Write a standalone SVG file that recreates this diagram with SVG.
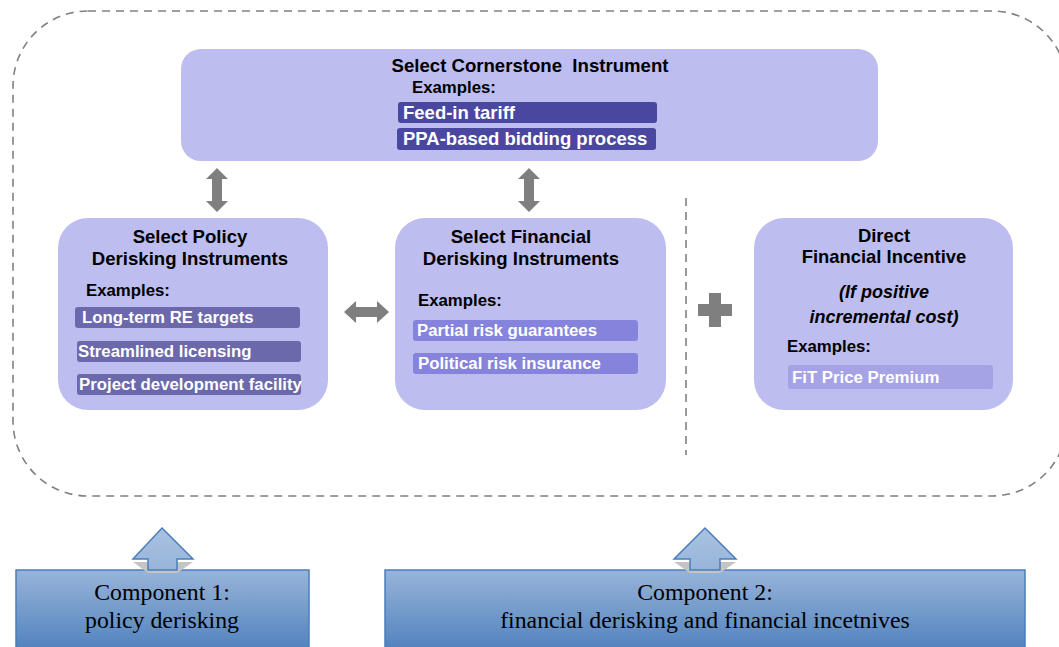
<svg xmlns="http://www.w3.org/2000/svg" width="1059" height="647" viewBox="0 0 1059 647">
<defs>
<style>
.box{fill:#bdbdef;}
.t{font-family:"Liberation Sans",Arial,sans-serif;font-weight:bold;fill:#000;}
.w{font-family:"Liberation Sans",Arial,sans-serif;font-weight:bold;fill:#fff;}
.c{text-anchor:middle;}
.tm{font-family:"Liberation Serif","Times New Roman",serif;fill:#000;text-anchor:middle;font-size:23.8px;}
.dash{fill:none;stroke:#808080;stroke-width:1.6;stroke-dasharray:8 6;}
.dbl{fill:#7f7f7f;}
.comp{fill:url(#cg);stroke:#4a7ebb;stroke-width:1.5;}
.up{fill:url(#ag);stroke:#4a7ebb;stroke-width:1.5;stroke-linejoin:miter;}
.sh{fill:#c4c4c4;}
</style>
<linearGradient id="cg" x1="0" y1="0" x2="0" y2="1">
<stop offset="0" stop-color="#98b4d9"/>
<stop offset="1" stop-color="#4f81bd"/>
</linearGradient>
<linearGradient id="ag" x1="0" y1="0" x2="0" y2="1">
<stop offset="0" stop-color="#a9c2e2"/>
<stop offset="1" stop-color="#97b4d8"/>
</linearGradient>
</defs>
<rect width="1059" height="647" fill="#fff"/>
<rect id="frame" class="dash" x="13" y="11" width="1054" height="485" rx="75" ry="75"/>
<line class="dash" x1="686" y1="198" x2="686" y2="455"/>

<g id="cornerstone">
<rect class="box" x="181" y="49" width="697" height="112" rx="20"/>
<text class="t c" x="530" y="72" font-size="18.6" xml:space="preserve" style="white-space:pre">Select Cornerstone  Instrument</text>
<text class="t" x="412" y="93" font-size="16.8">Examples:</text>
<rect x="398" y="102" width="259" height="21" rx="3" fill="#4a47a1"/>
<text class="w" x="403" y="119" font-size="18.5">Feed-in tariff</text>
<rect x="397" y="128" width="259" height="22" rx="3" fill="#4a47a1"/>
<text class="w" x="403" y="145" font-size="18.5">PPA-based bidding process</text>
</g>

<g id="policy">
<rect class="box" x="58" y="218" width="270" height="192" rx="30"/>
<text class="t c" x="190" y="243" font-size="18.6">Select Policy</text>
<text class="t c" x="190" y="265" font-size="18.6">Derisking Instruments</text>
<text class="t" x="86" y="296" font-size="16.8">Examples:</text>
<rect x="75" y="307" width="225" height="21" rx="3" fill="#6b68ab"/>
<text class="w" x="82" y="323" font-size="16.8">Long-term RE targets</text>
<rect x="77" y="341" width="224" height="21" rx="3" fill="#6b68ab"/>
<text class="w" x="78" y="357" font-size="16.8">Streamlined licensing</text>
<rect x="77" y="374" width="224" height="21" rx="3" fill="#6b68ab"/>
<text class="w" x="79" y="390" font-size="16.8">Project development facility</text>
</g>

<g id="financial">
<rect class="box" x="395" y="218" width="271" height="192" rx="30"/>
<text class="t c" x="521" y="243" font-size="18.6">Select Financial</text>
<text class="t c" x="521" y="265" font-size="18.6">Derisking Instruments</text>
<text class="t" x="418" y="306" font-size="16.8">Examples:</text>
<rect x="413" y="320" width="225" height="21" rx="3" fill="#8683dd"/>
<text class="w" x="417" y="336" font-size="16.8">Partial risk guarantees</text>
<rect x="413" y="353" width="225" height="21" rx="3" fill="#8683dd"/>
<text class="w" x="418" y="369" font-size="16.8">Political risk insurance</text>
</g>

<g id="incentive">
<rect class="box" x="754" y="218" width="259" height="192" rx="30"/>
<text class="t c" x="884" y="242" font-size="18.4">Direct</text>
<text class="t c" x="884" y="263" font-size="18.4">Financial Incentive</text>
<text class="t c" x="884" y="298" font-size="18" font-style="italic">(If positive</text>
<text class="t c" x="884" y="323" font-size="18" font-style="italic">incremental cost)</text>
<text class="t" x="787" y="352" font-size="16.8">Examples:</text>
<rect x="788" y="365" width="205" height="24" rx="3" fill="#a5a3e6"/>
<text class="w" x="792" y="383" font-size="16.8" fill="#f4f4ff">FiT Price Premium</text>
</g>

<g id="component1">
<rect class="comp" x="16" y="570" width="293" height="82"/>
<path class="sh" d="M133,562 L193,562 L177,573 L148,573 Z"/>
<path class="up" d="M162,528 L193,559 L177,559 L177,570 L148,570 L148,559 L133,559 Z"/>
<text class="tm" x="162" y="600">Component 1:</text>
<text class="tm" x="162" y="628">policy derisking</text>
</g>

<g id="component2">
<rect class="comp" x="385" y="570" width="640" height="82"/>
<path class="sh" d="M674,562 L736,562 L720,573 L690,573 Z"/>
<path class="up" d="M705,528 L736,559 L720,559 L720,570 L690,570 L690,559 L674,559 Z"/>
<text class="tm" x="705" y="600">Component 2:</text>
<text class="tm" x="705" y="628">financial derisking and financial incetnives</text>
</g>

<g id="connectors">
<path class="dbl" d="M217,168 L228,179 L222,179 L222,201 L228,201 L217,212 L206,201 L212,201 L212,179 L206,179 Z"/>
<path class="dbl" d="M529,168 L540,179 L534,179 L534,201 L540,201 L529,212 L518,201 L524,201 L524,179 L518,179 Z"/>
<path class="dbl" d="M344,312 L356,301 L356,307 L377,307 L377,301 L389,312 L377,323 L377,317 L356,317 L356,323 Z"/>
<path class="dbl" d="M709,293 L721,293 L721,304 L732,304 L732,316 L721,316 L721,327 L709,327 L709,316 L698,316 L698,304 L709,304 Z"/>
</g>
</svg>
